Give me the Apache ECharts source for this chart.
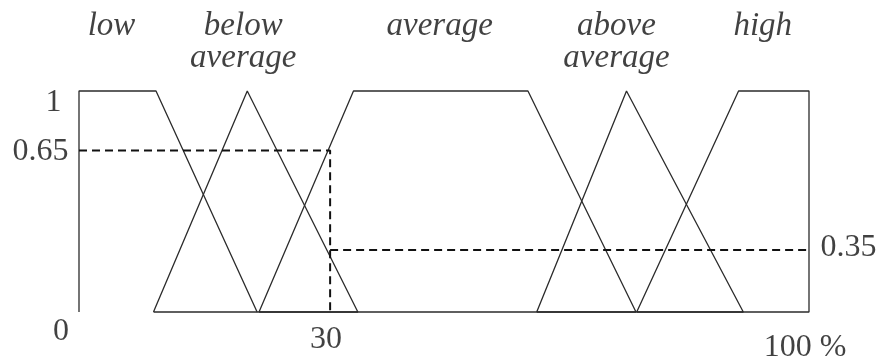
<!DOCTYPE html>
<html>
<head>
<meta charset="utf-8">
<style>html,body{margin:0;padding:0;background:#fff;}#c{width:879px;height:362px;}</style>
<script src="https://cdn.jsdelivr.net/npm/echarts@6/dist/echarts.min.js"></script>
</head>
<body>
<div id="c"></div>
<script>
// ---- data (x: 0..100 %, y: membership 0..1) ----
const setNames = ['low', 'below\naverage', 'average', 'above\naverage', 'high'];
const lowPts      = [[0, 0], [0, 1], [10.55, 1], [24.4, 0]];
const belowAvgPts = [[10.2, 0], [23.05, 1], [38.2, 0], [10.2, 0]];
const averagePts  = [[24.66, 0], [37.6, 1], [61.5, 1], [76.3, 0], [24.66, 0]];
const aboveAvgPts = [[62.7, 0], [75.0, 1], [91.0, 0], [62.7, 0]];
const highPts     = [[76.4, 0], [90.35, 1], [100, 1], [100, 0], [76.4, 0]];
const inputX = 34.4;        // reading position (drawn at the "30" mark)
const levelHigh = 0.731;    // drawn membership level labelled 0.65
const levelLow = 0.281;     // drawn membership level labelled 0.35
const xTickValues = [0, inputX, 100];
const xTickLabels = ['0', '30', '100 %'];
const yTickValues = [1, levelHigh, levelLow];
const yTickLabels = ['1', '0.65', '0.35'];

// ---- build options ----
const shapes = [lowPts, belowAvgPts, averagePts, aboveAvgPts, highPts];
const lineColor = '#2b2b2b';
const serif = '"Liberation Serif", "DejaVu Serif", serif';

const shapeSeries = shapes.map((pts, i) => ({
  type: 'line', name: setNames[i], data: pts, symbol: 'none', clip: false,
  lineStyle: { color: lineColor, width: 1.3 }, silent: true, z: 2
}));

const dashStyle = { color: '#111', width: 2, type: [8, 5] };
const dashSeries = [
  { type: 'line', data: [[0, levelHigh], [inputX, levelHigh], [inputX, 0]], symbol: 'none', clip: false, lineStyle: dashStyle, silent: true, z: 3 },
  { type: 'line', data: [[inputX, levelLow], [100, levelLow]], symbol: 'none', clip: false, lineStyle: dashStyle, silent: true, z: 3 }
];

// name label anchors: centre of the top (membership 1) part of each shape
const nameOffsets = [[-6, -65], [-4, -49], [-1, -65], [-10, -49], [-11, -65]];
const nameData = shapes.map((pts, i) => {
  const tops = pts.filter(p => p[1] === 1).map(p => p[0]);
  const cx = tops.reduce((a, b) => a + b, 0) / tops.length;
  return {
    value: [cx, 1],
    label: { show: true, position: 'inside', formatter: setNames[i], offset: nameOffsets[i] }
  };
});

const xTickOffsets = [[-18, 20], [-4, 28], [-4, 36]];
const xTickData = xTickValues.map((v, i) => ({
  value: [v, 0],
  label: { show: true, position: 'inside', formatter: xTickLabels[i], offset: xTickOffsets[i] }
}));
const yTickLayout = [
  { x: 0, position: 'left', distance: 17, offset: [0, 12] },
  { x: 0, position: 'left', distance: 10, offset: [0, 1.5] },
  { x: 100, position: 'right', distance: 11, offset: [0, -2] }
];
const yTickData = yTickValues.map((v, i) => ({
  value: [yTickLayout[i].x, v],
  label: { show: true, position: yTickLayout[i].position, distance: yTickLayout[i].distance,
           formatter: yTickLabels[i], offset: yTickLayout[i].offset }
}));

const labelSeries = [
  { type: 'scatter', data: nameData, symbolSize: 1, clip: false, silent: true,
    itemStyle: { color: 'rgba(0,0,0,0)' },
    label: { fontFamily: serif, fontStyle: 'italic', fontSize: 33, lineHeight: 32, color: '#111', align: 'center', verticalAlign: 'middle' } },
  { type: 'scatter', data: xTickData.concat(yTickData), symbolSize: 1, clip: false, silent: true,
    itemStyle: { color: 'rgba(0,0,0,0)' },
    label: { fontFamily: serif, fontSize: 32, color: '#111' } }
];

const chart = echarts.init(document.getElementById('c'), null, { renderer: 'canvas' });
chart.setOption({
  animation: false,
  backgroundColor: '#fff',
  grid: { left: 79, right: 70, top: 91, bottom: 50 },
  xAxis: { type: 'value', min: 0, max: 100, show: false },
  yAxis: { type: 'value', min: 0, max: 1, show: false },
  series: shapeSeries.concat(dashSeries, labelSeries)
});
</script>
</body>
</html>
